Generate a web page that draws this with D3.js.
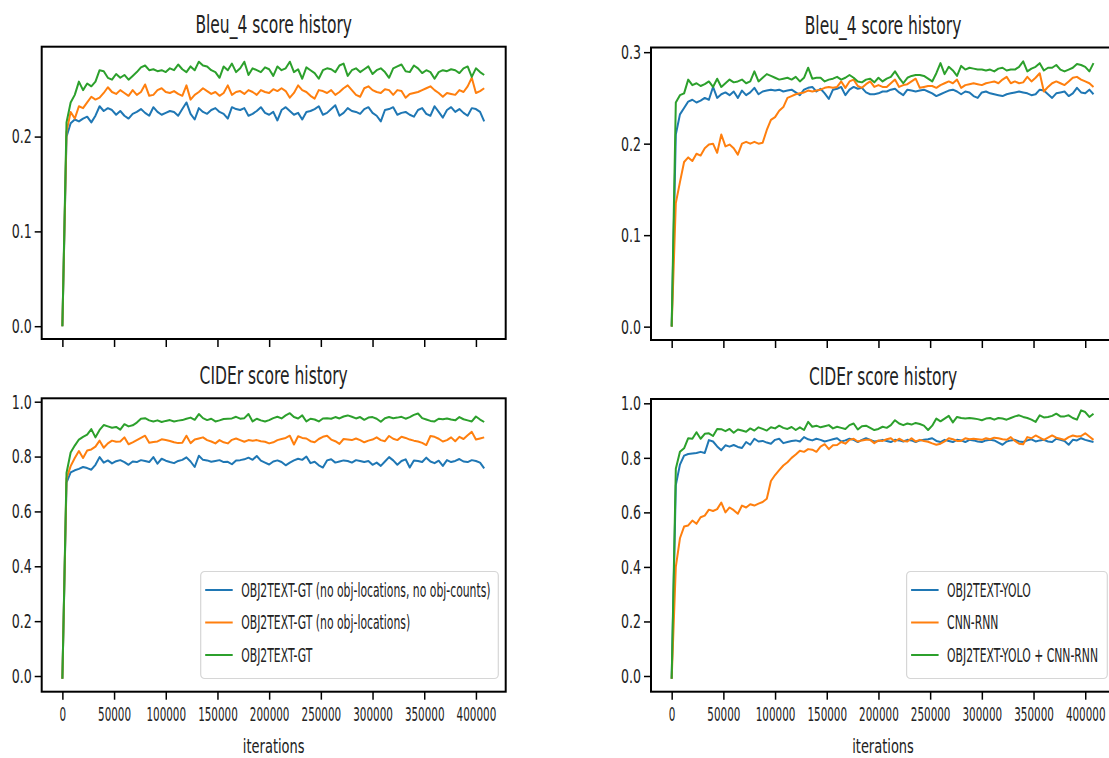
<!DOCTYPE html>
<html>
<head>
<meta charset="utf-8">
<script src="https://cdn.jsdelivr.net/npm/d3@7"></script>
<style>
    body { margin: 0; background: #fff; }
    svg { display: block; font-family: 'DejaVu Sans', sans-serif; }
</style>
</head>
<body>
<svg class="chart" width="1109" height="758"></svg>
<script>
// evaluation every 4000 iterations
var iterations = d3.range(0, 408001, 4000);
var xTicks = [0, 50000, 100000, 150000, 200000, 250000, 300000, 350000, 400000];
var bleuTicksLeft = [0, 0.1, 0.2];
var bleuTicksRight = [0, 0.1, 0.2, 0.3];
var ciderTicks = [0, 0.2, 0.4, 0.6, 0.8, 1.0];
var titles = ['Bleu_4 score history', 'Bleu_4 score history', 'CIDEr score history', 'CIDEr score history'];
var namesLeft = ['OBJ2TEXT-GT (no obj-locations, no obj-counts)', 'OBJ2TEXT-GT (no obj-locations)', 'OBJ2TEXT-GT'];
var namesRight = ['OBJ2TEXT-YOLO', 'CNN-RNN', 'OBJ2TEXT-YOLO + CNN-RNN'];

var bleuNoLocNoCount = [
    0.000,0.200,0.214,0.218,0.216,0.219,0.221,0.215,0.222,0.232,
    0.227,0.230,0.228,0.223,0.227,0.222,0.219,0.224,0.226,0.229,
    0.225,0.222,0.231,0.226,0.223,0.225,0.227,0.226,0.222,0.229,
    0.236,0.224,0.218,0.230,0.226,0.224,0.228,0.230,0.226,0.224,
    0.219,0.231,0.229,0.228,0.230,0.222,0.224,0.227,0.231,0.225,
    0.223,0.226,0.217,0.228,0.231,0.227,0.223,0.225,0.218,0.226,
    0.227,0.229,0.232,0.223,0.225,0.229,0.233,0.222,0.225,0.230,
    0.227,0.226,0.224,0.229,0.231,0.225,0.222,0.216,0.228,0.229,
    0.231,0.223,0.225,0.226,0.223,0.221,0.228,0.230,0.224,0.222,
    0.232,0.226,0.220,0.228,0.231,0.226,0.229,0.225,0.222,0.230,
    0.229,0.226,0.216];
var bleuNoLoc = [
    0.000,0.205,0.226,0.219,0.232,0.230,0.236,0.242,0.239,0.241,
    0.246,0.252,0.247,0.245,0.249,0.246,0.243,0.249,0.244,0.247,
    0.255,0.243,0.244,0.249,0.251,0.247,0.246,0.248,0.245,0.243,
    0.254,0.239,0.244,0.247,0.251,0.248,0.245,0.247,0.243,0.246,
    0.254,0.244,0.247,0.248,0.245,0.249,0.247,0.244,0.249,0.247,
    0.246,0.250,0.248,0.251,0.248,0.241,0.246,0.254,0.249,0.247,
    0.243,0.240,0.249,0.248,0.246,0.249,0.244,0.247,0.251,0.254,
    0.249,0.244,0.242,0.251,0.253,0.249,0.247,0.246,0.250,0.249,
    0.244,0.249,0.248,0.241,0.245,0.246,0.247,0.249,0.251,0.253,
    0.249,0.246,0.242,0.246,0.245,0.244,0.249,0.247,0.253,0.262,
    0.246,0.248,0.251];
var bleuGT = [
    0.000,0.215,0.236,0.244,0.258,0.249,0.256,0.253,0.258,0.270,
    0.269,0.262,0.260,0.266,0.262,0.265,0.260,0.264,0.268,0.273,
    0.275,0.270,0.271,0.269,0.270,0.268,0.272,0.270,0.276,0.271,
    0.268,0.274,0.270,0.279,0.275,0.274,0.270,0.268,0.262,0.274,
    0.270,0.277,0.268,0.272,0.279,0.265,0.272,0.270,0.268,0.273,
    0.271,0.264,0.274,0.270,0.272,0.279,0.268,0.271,0.261,0.273,
    0.270,0.267,0.261,0.270,0.272,0.271,0.268,0.275,0.277,0.264,
    0.270,0.272,0.268,0.271,0.274,0.266,0.270,0.272,0.268,0.262,
    0.272,0.274,0.276,0.269,0.268,0.275,0.272,0.267,0.270,0.268,
    0.261,0.268,0.270,0.269,0.271,0.270,0.267,0.272,0.274,0.263,
    0.272,0.268,0.265];

var bleuYolo = [
    0.000,0.210,0.232,0.239,0.246,0.248,0.245,0.247,0.250,0.248,
    0.262,0.250,0.254,0.256,0.253,0.257,0.250,0.258,0.253,0.256,
    0.261,0.254,0.257,0.258,0.259,0.258,0.259,0.257,0.258,0.259,
    0.256,0.253,0.259,0.261,0.262,0.257,0.260,0.255,0.249,0.259,
    0.260,0.262,0.253,0.259,0.262,0.260,0.261,0.256,0.254,0.254,
    0.255,0.257,0.257,0.259,0.260,0.256,0.253,0.259,0.258,0.257,
    0.258,0.259,0.257,0.255,0.252,0.254,0.256,0.258,0.259,0.257,
    0.254,0.257,0.256,0.252,0.250,0.256,0.257,0.255,0.254,0.253,
    0.252,0.254,0.255,0.256,0.257,0.256,0.255,0.253,0.254,0.259,
    0.258,0.254,0.250,0.255,0.256,0.257,0.252,0.255,0.261,0.256,
    0.255,0.259,0.254];
var bleuCnnRnn = [
    0.000,0.135,0.158,0.180,0.185,0.181,0.189,0.187,0.195,0.199,
    0.200,0.190,0.210,0.197,0.199,0.195,0.188,0.200,0.202,0.200,
    0.202,0.200,0.201,0.215,0.226,0.229,0.236,0.240,0.250,0.252,
    0.254,0.255,0.256,0.258,0.257,0.258,0.259,0.261,0.262,0.261,
    0.262,0.268,0.261,0.268,0.270,0.263,0.261,0.265,0.268,0.262,
    0.264,0.262,0.262,0.266,0.270,0.262,0.264,0.265,0.268,0.271,
    0.261,0.262,0.263,0.263,0.261,0.264,0.266,0.268,0.266,0.270,
    0.261,0.264,0.265,0.266,0.265,0.264,0.266,0.267,0.268,0.266,
    0.270,0.273,0.266,0.268,0.266,0.267,0.273,0.268,0.272,0.277,
    0.257,0.262,0.266,0.268,0.266,0.264,0.268,0.272,0.273,0.270,
    0.268,0.266,0.262];
var bleuYoloCnn = [
    0.000,0.245,0.253,0.255,0.270,0.264,0.266,0.263,0.265,0.268,
    0.262,0.271,0.262,0.266,0.270,0.267,0.268,0.270,0.266,0.268,
    0.279,0.268,0.272,0.276,0.274,0.272,0.270,0.271,0.272,0.270,
    0.273,0.268,0.272,0.283,0.271,0.272,0.272,0.268,0.270,0.271,
    0.273,0.270,0.272,0.275,0.272,0.268,0.267,0.270,0.271,0.267,
    0.272,0.268,0.271,0.273,0.279,0.272,0.266,0.272,0.274,0.275,
    0.275,0.274,0.271,0.268,0.277,0.288,0.276,0.284,0.280,0.274,
    0.285,0.281,0.283,0.282,0.281,0.281,0.280,0.281,0.279,0.282,
    0.283,0.280,0.281,0.281,0.284,0.290,0.279,0.282,0.284,0.288,
    0.280,0.283,0.283,0.286,0.281,0.279,0.281,0.283,0.287,0.286,
    0.284,0.279,0.288];

var ciderNoLocNoCount = [
    -0.010,0.705,0.742,0.750,0.755,0.762,0.758,0.752,0.770,0.798,
    0.778,0.786,0.775,0.783,0.787,0.780,0.770,0.782,0.780,0.787,
    0.784,0.780,0.798,0.774,0.792,0.785,0.780,0.776,0.784,0.788,
    0.797,0.782,0.762,0.803,0.788,0.786,0.781,0.784,0.787,0.780,
    0.781,0.772,0.786,0.787,0.790,0.796,0.788,0.802,0.785,0.778,
    0.771,0.782,0.786,0.780,0.768,0.778,0.786,0.792,0.788,0.800,
    0.776,0.781,0.768,0.760,0.786,0.790,0.778,0.782,0.786,0.784,
    0.778,0.787,0.784,0.780,0.784,0.770,0.778,0.766,0.782,0.798,
    0.786,0.770,0.784,0.790,0.760,0.786,0.784,0.780,0.796,0.782,
    0.776,0.785,0.766,0.787,0.780,0.784,0.791,0.782,0.780,0.787,
    0.784,0.778,0.757];
var ciderNoLoc = [
    -0.010,0.720,0.765,0.795,0.820,0.795,0.822,0.826,0.836,0.858,
    0.832,0.848,0.858,0.854,0.855,0.870,0.845,0.852,0.860,0.868,
    0.876,0.850,0.853,0.855,0.863,0.860,0.857,0.852,0.849,0.850,
    0.876,0.849,0.862,0.866,0.870,0.860,0.855,0.848,0.860,0.852,
    0.848,0.861,0.866,0.860,0.854,0.860,0.858,0.860,0.856,0.854,
    0.848,0.852,0.860,0.864,0.868,0.876,0.844,0.874,0.868,0.866,
    0.856,0.852,0.864,0.872,0.876,0.862,0.856,0.846,0.864,0.862,
    0.860,0.866,0.860,0.852,0.858,0.862,0.870,0.860,0.856,0.875,
    0.865,0.860,0.872,0.868,0.862,0.858,0.855,0.850,0.842,0.875,
    0.872,0.865,0.855,0.860,0.870,0.856,0.872,0.864,0.878,0.890,
    0.862,0.866,0.870];
var ciderGT = [
    -0.010,0.740,0.815,0.840,0.862,0.872,0.880,0.900,0.870,0.897,
    0.915,0.910,0.905,0.908,0.898,0.918,0.910,0.914,0.924,0.938,
    0.940,0.932,0.928,0.932,0.926,0.930,0.933,0.928,0.931,0.933,
    0.938,0.942,0.934,0.955,0.940,0.933,0.938,0.928,0.932,0.937,
    0.938,0.939,0.945,0.938,0.940,0.955,0.928,0.938,0.932,0.928,
    0.933,0.940,0.945,0.939,0.950,0.958,0.944,0.939,0.950,0.928,
    0.938,0.935,0.928,0.939,0.940,0.938,0.944,0.939,0.946,0.950,
    0.945,0.939,0.944,0.934,0.942,0.944,0.938,0.927,0.940,0.944,
    0.940,0.942,0.945,0.938,0.944,0.952,0.957,0.940,0.935,0.930,
    0.928,0.938,0.936,0.939,0.935,0.932,0.944,0.936,0.932,0.928,
    0.946,0.935,0.926];

var ciderYolo = [
    -0.010,0.700,0.775,0.808,0.814,0.816,0.818,0.822,0.818,0.865,
    0.860,0.842,0.828,0.846,0.841,0.847,0.840,0.836,0.858,0.848,
    0.870,0.860,0.862,0.856,0.852,0.866,0.870,0.854,0.858,0.862,
    0.864,0.860,0.876,0.868,0.864,0.870,0.866,0.860,0.864,0.868,
    0.872,0.860,0.864,0.870,0.866,0.858,0.866,0.872,0.866,0.860,
    0.862,0.866,0.862,0.858,0.866,0.864,0.860,0.866,0.864,0.858,
    0.864,0.866,0.868,0.872,0.862,0.858,0.866,0.862,0.858,0.866,
    0.864,0.858,0.866,0.864,0.860,0.858,0.864,0.866,0.864,0.856,
    0.848,0.860,0.864,0.866,0.860,0.858,0.864,0.868,0.860,0.864,
    0.866,0.860,0.858,0.870,0.866,0.862,0.848,0.866,0.864,0.872,
    0.866,0.862,0.858];
var ciderCnnRnn = [
    -0.010,0.400,0.505,0.548,0.552,0.570,0.558,0.582,0.588,0.610,
    0.605,0.612,0.636,0.600,0.618,0.608,0.595,0.625,0.618,0.630,
    0.625,0.632,0.638,0.650,0.715,0.737,0.755,0.772,0.784,0.800,
    0.812,0.826,0.822,0.832,0.830,0.822,0.841,0.850,0.832,0.846,
    0.847,0.858,0.852,0.866,0.870,0.860,0.864,0.866,0.866,0.854,
    0.864,0.862,0.868,0.872,0.860,0.870,0.862,0.860,0.872,0.860,
    0.866,0.862,0.859,0.853,0.848,0.852,0.860,0.872,0.868,0.862,
    0.862,0.872,0.868,0.870,0.868,0.866,0.872,0.868,0.874,0.872,
    0.868,0.866,0.876,0.862,0.852,0.850,0.876,0.872,0.882,0.874,
    0.866,0.874,0.882,0.874,0.870,0.866,0.876,0.882,0.878,0.880,
    0.890,0.878,0.866];
var ciderYoloCnn = [
    -0.010,0.760,0.822,0.835,0.872,0.870,0.894,0.870,0.888,0.890,
    0.880,0.906,0.905,0.898,0.906,0.892,0.904,0.900,0.896,0.908,
    0.900,0.912,0.906,0.900,0.912,0.908,0.918,0.910,0.906,0.913,
    0.902,0.912,0.902,0.932,0.914,0.918,0.912,0.916,0.920,0.908,
    0.914,0.910,0.906,0.920,0.926,0.904,0.916,0.918,0.910,0.902,
    0.906,0.914,0.910,0.920,0.938,0.926,0.920,0.926,0.922,0.928,
    0.924,0.918,0.902,0.918,0.944,0.934,0.944,0.954,0.930,0.950,
    0.946,0.944,0.946,0.944,0.942,0.938,0.944,0.946,0.940,0.946,
    0.944,0.940,0.946,0.952,0.956,0.950,0.946,0.940,0.932,0.956,
    0.948,0.950,0.954,0.962,0.952,0.952,0.956,0.946,0.940,0.974,
    0.968,0.950,0.962];

(function() {

    var p = {};
        p.colors = ['#1f77b4', '#ff7f0e', '#2ca02c'];
        p.xDomain = [-20000, 428800];
        p.lineWidth = 2;
        p.textColor = '#222';
        p.title = {size: 25, squeeze: 0.62, dy: -14};
        p.ytick = {size: 20, squeeze: 0.63, len: 7, pad: 3};
        p.xtick = {size: 20, squeeze: 0.52, len: 8, pad: 7};
        p.xlabel = {size: 20, squeeze: 0.65, y: 753};
        p.legend = {size: 19, squeeze: 0.57, top: 571.5, height: 107, rowY: [18.5, 51, 83.5],
                    lineLen: 27.5, pad: 4.5, textGap: 8.5};
        p.panels = [
            {box: [41.7, 505.7, 46.7, 339], yDomain: [-0.0135, 0.2948], yTicks: bleuTicksLeft,
             series: [bleuNoLocNoCount, bleuNoLoc, bleuGT], xLabels: false},
            {box: [651, 1115, 47.5, 340], yDomain: [-0.0146, 0.3051], yTicks: bleuTicksRight,
             series: [bleuYolo, bleuCnnRnn, bleuYoloCnn], xLabels: false},
            {box: [41.7, 505.7, 398.3, 691.7], yDomain: [-0.0572, 1.0124], yTicks: ciderTicks,
             series: [ciderNoLocNoCount, ciderNoLoc, ciderGT], xLabels: true,
             legend: {names: namesLeft, x0: 200.7, x1: 498.3}},
            {box: [651, 1115, 399, 691.7], yDomain: [-0.0576, 1.0158], yTicks: ciderTicks,
             series: [ciderYolo, ciderCnnRnn, ciderYoloCnn], xLabels: true,
             legend: {names: namesRight, x0: 906.6, x1: 1107.3}}
        ];

    var svg = d3.select('.chart');

    var squeezeText = function(sel, k) {
        sel.attr('transform', 'scale(' + k + ',1)');
    };

    p.panels.forEach(function(pn, n) {
        var x = d3.scaleLinear().domain(p.xDomain).range([pn.box[0], pn.box[1]]);
        var y = d3.scaleLinear().domain(pn.yDomain).range([pn.box[3], pn.box[2]]);
        var g = svg.append('g').attr('class', 'panel');

        //-----  Lines  -----//
        pn.series.forEach(function(vals, s) {
            var line = d3.line()
                .x(function(d, i) { return x(iterations[i]); })
                .y(function(d) { return y(d); });
            g.append('path')
                .datum(vals)
                .attr('fill', 'none')
                .attr('stroke', p.colors[s])
                .attr('stroke-width', p.lineWidth)
                .attr('stroke-linejoin', 'round')
                .attr('d', line);
        });

        //-----  Frame  -----//
        g.append('rect')
            .attr('x', pn.box[0]).attr('y', pn.box[2])
            .attr('width', pn.box[1] - pn.box[0])
            .attr('height', pn.box[3] - pn.box[2])
            .attr('fill', 'none')
            .attr('stroke', '#000')
            .attr('stroke-width', 2);

        //-----  Y Axis  -----//
        var yAxis = g.append('g')
            .attr('transform', 'translate(' + pn.box[0] + ',0)')
            .call(d3.axisLeft(y)
                .tickValues(pn.yTicks)
                .tickFormat(d3.format('.1f'))
                .tickSize(p.ytick.len)
                .tickPadding(p.ytick.pad));
        yAxis.select('.domain').remove();
        yAxis.selectAll('.tick line').attr('stroke', '#000').attr('stroke-width', 1.5);
        yAxis.selectAll('.tick text')
            .attr('font-family', 'DejaVu Sans')
            .attr('font-size', p.ytick.size)
            .attr('fill', p.textColor)
            .attr('x', -(p.ytick.len + p.ytick.pad) / p.ytick.squeeze)
            .call(squeezeText, p.ytick.squeeze);

        //-----  X Axis  -----//
        var xAxis = g.append('g')
            .attr('transform', 'translate(0,' + pn.box[3] + ')')
            .call(d3.axisBottom(x)
                .tickValues(xTicks)
                .tickFormat(pn.xLabels ? d3.format('d') : '')
                .tickSize(p.xtick.len)
                .tickPadding(p.xtick.pad));
        xAxis.select('.domain').remove();
        xAxis.selectAll('.tick line').attr('stroke', '#000').attr('stroke-width', 1.5);
        xAxis.selectAll('.tick text')
            .attr('font-family', 'DejaVu Sans')
            .attr('font-size', p.xtick.size)
            .attr('fill', p.textColor)
            .call(squeezeText, p.xtick.squeeze);

        var cx = (pn.box[0] + pn.box[1]) / 2;

        //-----  Title  -----//
        svg.append('g')
            .attr('transform', 'translate(' + cx + ',' + (pn.box[2] + p.title.dy) + ')')
            .append('text')
                .text(titles[n])
                .attr('text-anchor', 'middle')
                .attr('font-size', p.title.size)
                .attr('fill', p.textColor)
                .call(squeezeText, p.title.squeeze);

        if (pn.xLabels) {
            svg.append('g')
                .attr('transform', 'translate(' + cx + ',' + p.xlabel.y + ')')
                .append('text')
                    .text('iterations')
                    .attr('text-anchor', 'middle')
                    .attr('font-size', p.xlabel.size)
                    .attr('fill', p.textColor)
                    .call(squeezeText, p.xlabel.squeeze);
        }

        //-----  Legend  -----//
        if (pn.legend) {
            var lg = svg.append('g')
                .attr('class', 'legend')
                .attr('transform', 'translate(' + pn.legend.x0 + ',' + p.legend.top + ')');
            lg.append('rect')
                .attr('width', pn.legend.x1 - pn.legend.x0)
                .attr('height', p.legend.height)
                .attr('rx', 4)
                .attr('fill', '#fff')
                .attr('fill-opacity', 0.85)
                .attr('stroke', '#d6d6d6')
                .attr('stroke-width', 1.2);
            pn.legend.names.forEach(function(name, s) {
                var row = lg.append('g')
                    .attr('transform', 'translate(0,' + p.legend.rowY[s] + ')');
                row.append('line')
                    .attr('x1', p.legend.pad).attr('x2', p.legend.pad + p.legend.lineLen)
                    .attr('stroke', p.colors[s])
                    .attr('stroke-width', p.lineWidth);
                row.append('g')
                    .attr('transform', 'translate(' + (p.legend.pad + p.legend.lineLen + p.legend.textGap) + ',0)')
                    .append('text')
                        .text(name)
                        .attr('dy', '0.36em')
                        .attr('font-size', p.legend.size)
                        .attr('fill', p.textColor)
                        .call(squeezeText, p.legend.squeeze);
            });
        }
    });
})();
</script>
</body>
</html>
